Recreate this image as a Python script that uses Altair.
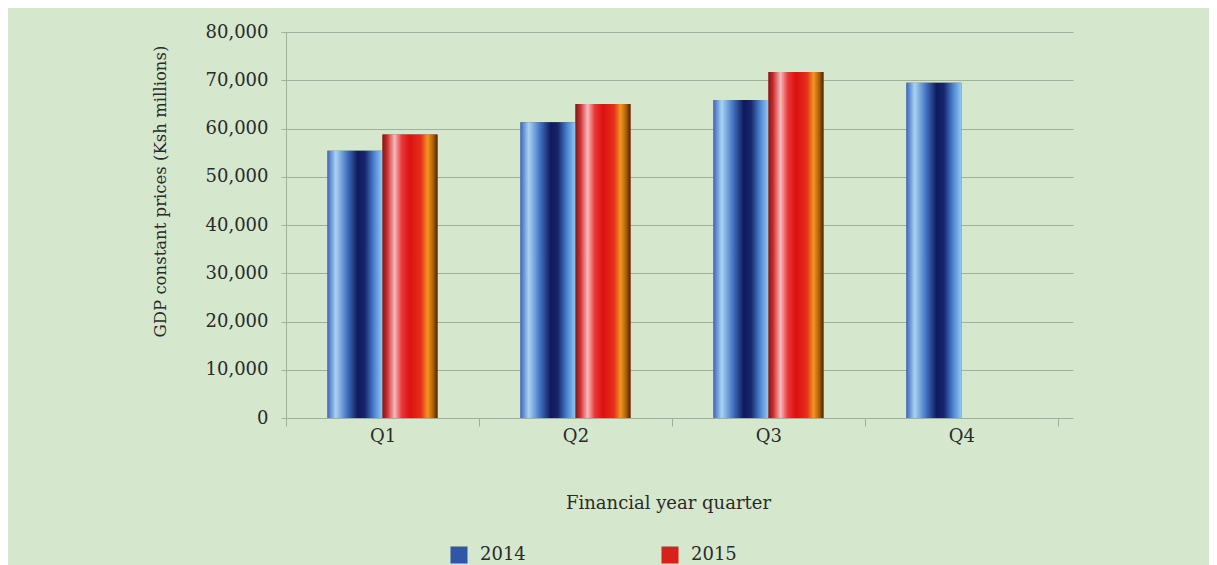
import altair as alt
import pandas as pd

# ---- data ----
quarters = ["Q1", "Q2", "Q3", "Q4"]
years = ["2014", "2015"]
gdp_2014 = [55400, 61300, 65900, 69500]
gdp_2015 = [58750, 65100, 71700]          # Q4 2015 not reported
y_ticks = [0, 10000, 20000, 30000, 40000, 50000, 60000, 70000, 80000]

rows = []
for q, v in zip(quarters, gdp_2014):
    rows.append({"quarter": q, "year": "2014", "gdp": v})
for q, v in zip(quarters, gdp_2015):
    rows.append({"quarter": q, "year": "2015", "gdp": v})
df = pd.DataFrame(rows)

# ---- style ----
FONT = "DejaVu Serif"
BG = "#d5e8ce"
GRID = "#9fb09b"
TEXT = "#2a2a2a"

blue_grad = {
    "gradient": "linear", "x1": 0, "y1": 0, "x2": 1, "y2": 0,
    "stops": [
        {"offset": 0.0, "color": "#3c68bd"},
        {"offset": 0.15, "color": "#a9d3f2"},
        {"offset": 0.35, "color": "#4575c4"},
        {"offset": 0.55, "color": "#0f1a5c"},
        {"offset": 0.68, "color": "#17256e"},
        {"offset": 0.85, "color": "#4d85d2"},
        {"offset": 1.0, "color": "#93c9f2"},
    ],
}
red_grad = {
    "gradient": "linear", "x1": 0, "y1": 0, "x2": 1, "y2": 0,
    "stops": [
        {"offset": 0.0, "color": "#7a1a12"},
        {"offset": 0.08, "color": "#c8282a"},
        {"offset": 0.22, "color": "#f7b9ba"},
        {"offset": 0.35, "color": "#e83838"},
        {"offset": 0.5, "color": "#dc1010"},
        {"offset": 0.7, "color": "#e4301a"},
        {"offset": 0.82, "color": "#f0951f"},
        {"offset": 0.92, "color": "#b0600a"},
        {"offset": 1.0, "color": "#4a2400"},
    ],
}

x_enc = alt.X(
    "quarter:N",
    sort=quarters,
    scale=alt.Scale(domain=quarters, paddingInner=0, paddingOuter=0.039, align=0),
    axis=alt.Axis(
        title="Financial year quarter",
        labelAngle=0,
        tickBand="extent",
        domain=False,
        grid=False,
        ticks=True,
        tickSize=8,
        tickColor=GRID,
        labelFont=FONT,
        labelFontSize=18,
        labelColor=TEXT,
        labelBaseline="alphabetic",
        labelPadding=15,
        titleFont=FONT,
        titleFontSize=18,
        titleFontWeight="normal",
        titleColor=TEXT,
        titleX=382,
        titleY=90,
        titleBaseline="alphabetic",
    ),
)
xoff_enc = alt.XOffset(
    "year:N", scale=alt.Scale(domain=years, paddingInner=0, paddingOuter=0.755)
)
y_enc = alt.Y(
    "gdp:Q",
    scale=alt.Scale(domain=[0, 80000], nice=False),
    axis=alt.Axis(
        values=y_ticks,
        format=",.0f",
        title="GDP constant prices (Ksh millions)",
        grid=True,
        gridColor=GRID,
        gridWidth=1,
        domainColor=GRID,
        tickColor=GRID,
        tickSize=5,
        labelFont=FONT,
        labelFontSize=18,
        labelColor=TEXT,
        labelPadding=13,
        titleFont=FONT,
        titleFontSize=16.5,
        titleFontWeight="normal",
        titleColor=TEXT,
        titleX=-126,
        titleY=159,
        titleBaseline="middle",
    ),
)

base = alt.Chart(df)

legend_layer = base.mark_bar().encode(
    x=x_enc,
    xOffset=xoff_enc,
    y=y_enc,
    color=alt.Color(
        "year:N",
        scale=alt.Scale(domain=years, range=["#2f56a8", "#d9211c"]),
        legend=alt.Legend(
            title=None,
            orient="none",
            legendX=164,
            legendY=514,
            direction="horizontal",
            columnPadding=135,
            symbolType="square",
            symbolSize=290,
            symbolStrokeWidth=0,
            labelFont=FONT,
            labelFontSize=18,
            labelColor=TEXT,
            labelOffset=12,
            padding=0,
        ),
    ),
)

gradient_layer = base.mark_bar().encode(
    x=x_enc,
    xOffset=xoff_enc,
    y=y_enc,
    color=alt.condition("datum.year == '2014'", alt.value(blue_grad), alt.value(red_grad)),
)

chart = (
    alt.layer(legend_layer, gradient_layer)
    .properties(
        width=787,
        height=386,
        autosize=alt.AutoSizeParams(type="none"),
        padding={"left": 278, "top": 24, "right": 136, "bottom": 170},
        background=BG,
    )
    .configure_view(stroke=None, fill=BG)
)

chart.save("out.html", embed_options={"renderer": "svg", "actions": False})
